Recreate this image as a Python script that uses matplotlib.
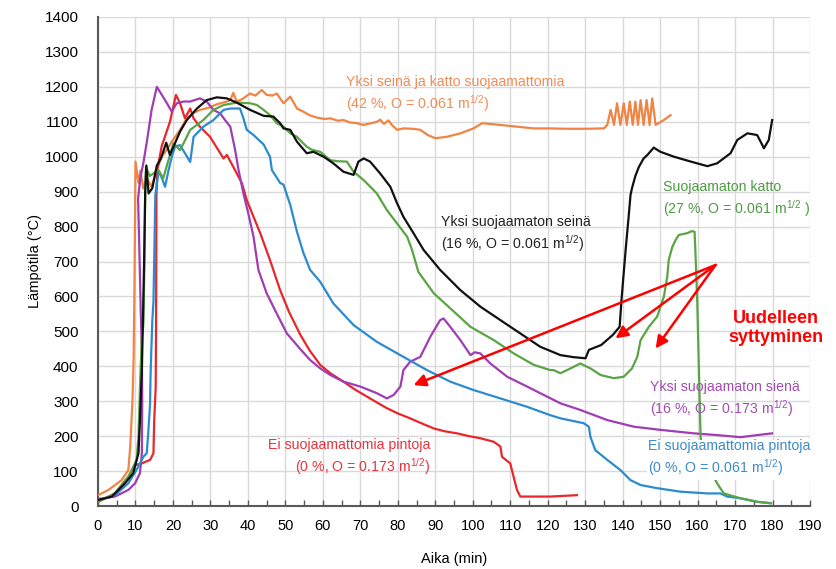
import matplotlib
matplotlib.use("Agg")
import matplotlib.pyplot as plt
from matplotlib.ticker import MultipleLocator

plt.rcParams['font.family'] = 'Liberation Sans'
plt.rcParams['mathtext.default'] = 'regular'

# Yksi seinä ja katto suojaamattomia (42 %)
t_orange = [0, 2.8, 6.3, 8.1, 8.6, 9.2, 9.5, 9.7, 9.9, 10.0, 10.8, 11.3, 12.1, 13.0, 14.3, 15.7,
            17.0, 18.3, 19.7, 21.9, 23.7, 25.5, 27.2, 29.5, 31.7, 34.4, 35.3, 36.1, 37.0, 38.5,
            40.6, 42.0, 43.7, 45.0, 46.5, 47.7, 49.5, 51.3, 53.1, 54.8, 56.6, 58.4, 60.5, 62.0,
            64.0, 65.5, 67.3, 69.1, 70.8, 72.5, 74.4, 75.3, 76.3, 77.5, 78.5, 79.8, 81.5, 84.0,
            86.0, 88.0, 90.0, 93.1, 96.7, 100.2, 102.5, 107.4, 111.8, 116.3, 120.7, 125.0, 130.0,
            135.0, 135.9, 136.8, 137.7, 138.5, 139.4, 140.3, 141.1, 141.9, 142.7, 143.4, 144.1,
            144.8, 145.6, 146.4, 147.2, 147.9, 148.8, 151.0, 152.8]
T_orange = [31, 46, 74, 103, 170, 300, 420, 600, 850, 986, 925, 960, 909, 938, 914, 962,
            1000, 1019, 1043, 1077, 1110, 1125, 1134, 1140, 1150, 1158, 1162, 1183, 1158, 1165,
            1181, 1175, 1191, 1177, 1175, 1181, 1153, 1172, 1138, 1129, 1118, 1112, 1108, 1110,
            1103, 1105, 1098, 1096, 1091, 1095, 1100, 1106, 1094, 1104, 1090, 1077, 1081, 1080,
            1077, 1062, 1053, 1057, 1067, 1081, 1096, 1091, 1086, 1081, 1081, 1080, 1080,
            1081, 1091, 1134, 1091, 1153, 1091, 1153, 1091, 1158, 1091, 1158, 1091,
            1162, 1091, 1162, 1091, 1167, 1091, 1105, 1119]

# Ei suojaamattomia pintoja (0 %, O = 0.173)
t_red = [0, 4.5, 8.1, 9.9, 11.7, 13.9, 14.8, 15.0, 15.4, 15.5, 15.6, 15.8, 17.0, 19.2, 20.8,
         21.9, 23.2, 24.6, 25.5, 27.2, 29.9, 32.1, 33.5, 34.4, 36.1, 38.4, 39.7, 41.5, 43.3,
         45.9, 48.6, 51.0, 54.0, 56.5, 59.3, 62.0, 65.5, 68.5, 71.8, 74.5, 77.1, 80.0, 83.3,
         86.5, 89.6, 92.5, 95.8, 99.0, 102.0, 105.6, 107.4, 107.8, 110.0, 110.9, 111.8, 112.7,
         120.7, 127.8]
T_red = [12, 36, 84, 117, 122, 132, 151, 246, 341, 532, 890, 962, 1030, 1100, 1177,
         1153, 1110, 1138, 1110, 1086, 1057, 1019, 995, 1005, 971, 924, 876, 828, 781,
         704, 618, 555, 490, 445, 404, 380, 356, 334, 313, 296, 280, 265, 251,
         236, 222, 214, 208, 200, 194, 184, 170, 141, 122, 84, 46, 27,
         27, 31]

# Yksi suojaamaton seinä (16 %, O = 0.061)
t_black = [0, 3.7, 7.2, 9.4, 10.8, 11.2, 11.7, 12.0, 12.3, 12.6, 12.9, 13.5, 14.5, 15.7, 16.8,
           18.2, 19.2, 20.4, 21.9, 23.7, 26.4, 29.0, 31.7, 34.4, 37.0, 40.6, 44.2, 46.8, 48.6,
           49.5, 51.3, 53.1, 55.7, 57.5, 60.2, 62.8, 65.5, 68.2, 69.5, 70.9, 72.6, 75.3, 78.0,
           79.8, 81.5, 84.2, 86.9, 91.3, 96.7, 102.0, 107.4, 112.7, 118.0, 123.4, 127.0, 130.1,
           131.0, 134.3, 137.4, 139.2, 139.7, 140.2, 140.8, 141.6, 142.1, 142.5, 143.4, 144.3,
           145.6, 146.6, 148.3, 150.1, 153.7, 158.2, 162.6, 165.2, 168.8, 170.6, 173.3, 175.9,
           177.3, 177.7, 179.0, 179.9]
T_black = [17, 27, 65, 94, 151, 246, 389, 532, 700, 900, 975, 895, 910, 975, 995,
           1040, 1005, 1035, 1072, 1105, 1138, 1162, 1170, 1167, 1155, 1134, 1117, 1115, 1096,
           1081, 1077, 1043, 1010, 1014, 1000, 981, 957, 948, 986, 995, 986, 952, 914,
           867, 828, 781, 733, 676, 618, 571, 532, 494, 456, 432, 426, 423,
           447, 461, 490, 513, 590, 656, 733, 828, 890, 910, 945, 970,
           995, 1005, 1026, 1014, 1000, 986, 973, 981, 1010, 1048, 1067, 1062,
           1033, 1024, 1048, 1105]

# Ei suojaamattomia pintoja (0 %, O = 0.061)
t_blue = [0, 4.5, 8.1, 10.8, 12.1, 13.0, 13.4, 13.9, 14.0, 14.2, 14.5, 14.8, 15.1, 15.3, 16.2,
          17.0, 17.9, 18.8, 19.7, 20.6, 21.9, 23.2, 24.6, 25.5, 28.1, 30.8, 33.5, 35.3, 37.9,
          38.8, 39.7, 41.5, 44.2, 45.9, 46.4, 48.6, 49.5, 51.3, 53.1, 54.8, 56.6, 59.3, 62.8,
          68.2, 74.4, 81.5, 87.8, 94.0, 100.2, 107.4, 114.5, 120.7, 123.4, 129.6, 131.0, 131.4,
          132.7, 135.9, 139.4, 142.1, 144.8, 149.2, 155.4, 162.6, 166.1, 167.9, 171.5, 175.9,
          179.5]
T_blue = [15, 31, 65, 113, 141, 151, 208, 294, 361, 437, 532, 585, 767, 890, 960,
          940, 914, 960, 1000, 1030, 1033, 1010, 985, 1057, 1086, 1105, 1134, 1138, 1138,
          1110, 1077, 1062, 1035, 1000, 962, 925, 920, 862, 785, 725, 676, 642, 580,
          518, 470, 427, 389, 356, 332, 308, 284, 260, 251, 237, 227, 198,
          160, 132, 103, 74, 60, 51, 41, 36, 36, 27, 22, 12,
          8]

# Yksi suojaamaton sienä (16 %, O = 0.173)
t_purple = [0, 4.5, 8.1, 9.9, 11.2, 11.7, 11.8, 11.7, 11.4, 11.0, 10.7, 11.3, 12.1, 13.0, 14.3,
            15.7, 17.9, 19.7, 21.0, 22.8, 24.6, 27.2, 29.0, 30.8, 32.6, 33.9, 35.3, 36.6, 37.5,
            38.8, 40.1, 41.5, 42.2, 42.8, 45.0, 47.7, 50.4, 54.0, 56.6, 59.3, 62.0, 65.5, 70.0,
            74.4, 77.1, 78.9, 80.7, 81.5, 83.3, 86.0, 88.7, 91.3, 92.2, 94.0, 96.7, 99.4, 100.5,
            102.0, 104.7, 109.2, 114.5, 118.0, 123.4, 128.7, 135.9, 143.0, 150.1, 159.0, 165.2,
            171.5, 175.9, 179.9]
T_purple = [20, 27, 46, 65, 94, 151, 300, 450, 560, 750, 880, 940, 982, 1040, 1134,
            1200, 1162, 1129, 1153, 1158, 1158, 1167, 1158, 1134, 1124, 1105, 1086, 1019, 962,
            895, 838, 771, 720, 676, 609, 551, 494, 449, 418, 394, 375, 356, 342,
            323, 308, 318, 342, 389, 413, 427, 485, 532, 537, 513, 475, 432, 440,
            437, 408, 370, 342, 323, 294, 275, 246, 227, 218, 208, 203,
            197, 203, 208]

# Suojaamaton katto (27 %, O = 0.061)
t_green = [0, 4.5, 8.1, 10.3, 10.8, 11.2, 11.7, 12.1, 12.4, 12.6, 12.8, 13.8, 14.8, 16.1, 17.4,
           18.8, 20.1, 21.9, 23.7, 24.6, 26.4, 28.1, 30.8, 33.5, 37.0, 40.6, 42.4, 44.2, 45.9,
           47.7, 49.5, 51.3, 53.1, 54.8, 55.7, 57.0, 59.3, 62.0, 64.0, 66.4, 68.2, 70.9, 74.4,
           77.1, 79.8, 82.5, 83.8, 85.5, 89.6, 94.0, 99.4, 105.6, 110.9, 116.3, 120.7, 121.6,
           123.4, 126.1, 128.7, 131.4, 134.1, 137.6, 140.3, 142.5, 143.9, 144.8, 147.0, 149.2,
           151.0, 151.9, 152.3, 153.2, 154.1, 155.0, 157.2, 158.5, 159.2, 159.4, 159.9, 160.4,
           160.8, 161.5, 163.5, 165.2, 167.0, 171.5, 175.9, 179.5]
T_green = [12, 36, 84, 132, 199, 341, 485, 518, 700, 900, 971, 945, 952, 962, 938,
           990, 1038, 1019, 1057, 1077, 1091, 1105, 1134, 1148, 1155, 1153, 1148, 1134, 1119,
           1096, 1086, 1067, 1057, 1038, 1029, 1020, 1014, 990, 987, 986, 957, 933, 895,
           847, 809, 771, 733, 670, 609, 566, 513, 475, 437, 404, 389, 389,
           380, 394, 408, 394, 375, 366, 370, 394, 427, 475, 513, 542,
           599, 656, 704, 740, 761, 776, 781, 787, 785, 733, 590, 370,
           198, 140, 100, 65, 36, 22, 12, 8]

# re-ignition arrows: (tail, head) in data units
arrow_tail = (164.8, 690)
arrow_heads = [(84.2, 346), (138.1, 480), (148.8, 451)]

fig = plt.figure(figsize=(8.36, 5.69), dpi=100)
ax = fig.add_axes([98 / 836, 1 - 506 / 569, (810 - 98) / 836, (506 - 17) / 569])

lw = 1.6
ax.plot(t_orange, T_orange, color="#EF8444", lw=lw, zorder=3)
ax.plot(t_red, T_red, color="#E8262B", lw=lw, zorder=3)
ax.plot(t_purple, T_purple, color="#A03CB4", lw=lw, zorder=3)
ax.plot(t_blue, T_blue, color="#2C8BD0", lw=lw, zorder=3)
ax.plot(t_green, T_green, color="#5AA445", lw=lw, zorder=3)
ax.plot(t_black, T_black, color="#111111", lw=lw, zorder=4)

for head in arrow_heads:
    ax.annotate("", xy=head, xytext=arrow_tail,
                arrowprops=dict(arrowstyle="-|>", color="#FF0000", lw=1.8,
                                mutation_scale=18, shrinkA=0, shrinkB=0),
                zorder=6)

ax.text(180.8, 510, "Uudelleen\nsyttyminen", color="#FF0000", fontsize=13,
        fontweight="bold", ha="center", va="center", linespacing=1.15)

fs = 10.2
ax.text(66.2, 1177, "Yksi seinä ja katto suojaamattomia\n(42 %, O = 0.061 m$^{1/2}$)",
        color="#F08C55", fontsize=fs, ha="left", va="center", linespacing=1.25)
ax.text(91.6, 778, "Yksi suojaamaton seinä\n(16 %, O = 0.061 m$^{1/2}$)",
        color="#222222", fontsize=fs, ha="left", va="center", linespacing=1.25)
ax.text(150.9, 877, "Suojaamaton katto\n(27 %, O = 0.061 m$^{1/2}$ )",
        color="#4E9A43", fontsize=fs, ha="left", va="center", linespacing=1.25)
ax.text(147.4, 306, "Yksi suojaamaton sienä\n(16 %, O = 0.173 m$^{1/2}$)",
        color="#A24DB0", fontsize=fs, ha="left", va="center", linespacing=1.25)
ax.text(146.9, 135, "Ei suojaamattomia pintoja\n(0 %, O = 0.061 m$^{1/2}$)",
        color="#3C8BCB", fontsize=fs, ha="left", va="center", linespacing=1.25,
        bbox=dict(facecolor="white", edgecolor="none", pad=1), zorder=5)
ax.text(88.7, 140, "Ei suojaamattomia pintoja\n(0 %, O = 0.173 m$^{1/2}$)",
        color="#E8333A", fontsize=fs, ha="right", va="center", linespacing=1.25,
        multialignment="right")

ax.set_xlim(0, 190)
ax.set_ylim(0, 1400)
ax.xaxis.set_major_locator(MultipleLocator(10))
ax.xaxis.set_minor_locator(MultipleLocator(5))
ax.yaxis.set_major_locator(MultipleLocator(100))
ax.grid(True, which="major", color="#D9D9D9", lw=1.0, zorder=0)
ax.set_axisbelow(True)

for side in ["top", "right"]:
    ax.spines[side].set_visible(False)
for side in ["left", "bottom"]:
    ax.spines[side].set_color("#595959")
    ax.spines[side].set_linewidth(1.5)

ax.tick_params(axis="x", which="both", direction="in", length=4, width=1, color="#595959",
               labelsize=10.5, pad=9)
ax.tick_params(axis="y", length=0, labelsize=11, pad=14)

ax.set_xlabel("Aika (min)", fontsize=10.5, labelpad=14)
ax.set_ylabel("Lämpötila (°C)", fontsize=10.5, labelpad=2)

fig.savefig("out.png", dpi=100)
